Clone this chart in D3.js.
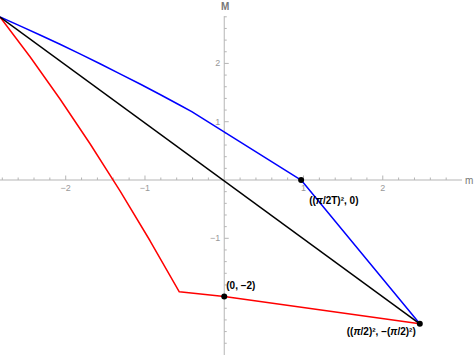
<!DOCTYPE html>
<html><head><meta charset="utf-8">
<script src="https://cdn.jsdelivr.net/npm/d3@7"></script>
<style>body{margin:0;background:#fff;} svg{display:block;}</style>
</head><body>
<script>
// Data
const blueM = [-2.829, -2.577, -2.324, -2.072, -1.820, -1.567, -1.315, -1.062, -0.810, -0.558, -0.410, 0.97, 2.467];
const blueV = [2.796, 2.643, 2.487, 2.328, 2.163, 1.995, 1.822, 1.647, 1.467, 1.282, 1.172, 0, -2.467];
const redM = [-2.829, -2.450, -2.072, -1.693, -1.315, -0.936, -0.567, 0, 2.467];
const redV = [2.796, 2.115, 1.390, 0.622, -0.187, -1.042, -1.918, -2, -2.467];
const blackM = [-2.829, 2.467];
const blackV = [2.796, -2.467];
const dotM = [0.97, 0, 2.467];
const dotV = [0, -2, -2.467];
const dotLabels = ["((\u03C0/2T)\u00B2, 0)", "(0, \u22122)", "((\u03C0/2)\u00B2, \u2212(\u03C0/2)\u00B2)"];
const xTicks = [-2, -1, 1, 2];
const yTicks = [-1, 1, 2];

const W = 476, H = 355;
const svg = d3.select("body").append("svg").attr("width", W).attr("height", H);
const x = d3.scaleLinear().domain([-2.829, 3.05]).range([0, 466]);
const y = d3.scaleLinear().domain([-3.0, 2.81]).range([354.9, 16.2]);
const axisCol = "#b5b5b5", labCol = "#999";

// x axis
const xg = svg.append("g").attr("transform", `translate(0,${y(0)})`);
xg.append("line").attr("x1", 0).attr("x2", x(3.0)).attr("stroke", axisCol).attr("stroke-width", 1);
const minorX = d3.range(-14, 16).map(i => i / 5).filter(v => Math.abs(v - Math.round(v)) > 1e-6);
xg.selectAll(".mx").data(minorX).join("line")
  .attr("x1", d => x(d)).attr("x2", d => x(d)).attr("y1", 0).attr("y2", -2.5)
  .attr("stroke", axisCol);
xg.selectAll(".Mx").data(xTicks).join("line")
  .attr("x1", d => x(d)).attr("x2", d => x(d)).attr("y1", 0).attr("y2", -4.5)
  .attr("stroke", axisCol);
xg.selectAll(".tx").data(xTicks).join("text")
  .attr("x", d => x(d)).attr("y", 11).attr("text-anchor", "middle")
  .attr("font-family", "Liberation Sans, Arial, sans-serif").attr("font-size", 9).attr("fill", labCol)
  .text(d => d < 0 ? "\u2212" + Math.abs(d) : d);

// y axis
const yg = svg.append("g").attr("transform", `translate(${x(0)},0)`);
yg.append("line").attr("y1", y(2.81)).attr("y2", H).attr("stroke", axisCol).attr("stroke-width", 1);
const minorY = d3.range(-15, 15).map(i => i / 5).filter(v => Math.abs(v - Math.round(v)) > 1e-6);
yg.selectAll(".my").data(minorY).join("line")
  .attr("y1", d => y(d)).attr("y2", d => y(d)).attr("x1", 0).attr("x2", 2.5)
  .attr("stroke", axisCol);
yg.selectAll(".My").data(yTicks).join("line")
  .attr("y1", d => y(d)).attr("y2", d => y(d)).attr("x1", 0).attr("x2", 4.5)
  .attr("stroke", axisCol);
yg.selectAll(".ty").data(yTicks).join("text")
  .attr("x", -4).attr("y", d => y(d) + 3).attr("text-anchor", "end")
  .attr("font-family", "Liberation Sans, Arial, sans-serif").attr("font-size", 9).attr("fill", labCol)
  .text(d => d < 0 ? "\u2212" + Math.abs(d) : d);

// axis labels
svg.append("text").attr("x", x(0) + 1).attr("y", 10).attr("text-anchor", "middle")
  .attr("font-family", "Liberation Sans, Arial, sans-serif").attr("font-size", 10).attr("font-weight", "bold")
  .attr("fill", "#777").text("M");
svg.append("text").attr("x", 465).attr("y", y(0) + 4).attr("text-anchor", "start")
  .attr("font-family", "Liberation Sans, Arial, sans-serif").attr("font-size", 10)
  .attr("fill", "#777").text("m");

const line = d3.line().x(d => x(d[0])).y(d => y(d[1]));
function draw(ms, vs, col) {
  svg.append("path").datum(ms.map((m, i) => [m, vs[i]])).attr("d", line)
    .attr("fill", "none").attr("stroke", col).attr("stroke-width", 1.5).attr("stroke-linejoin", "round");
}
draw(redM, redV, "#ff0000");
draw(blueM, blueV, "#0000ff");
draw(blackM, blackV, "#000000");

svg.selectAll(".dot").data(dotM).join("circle")
  .attr("cx", d => x(d)).attr("cy", (d, i) => y(dotV[i])).attr("r", 3).attr("fill", "#000");

const offs = [[8, 24], [2, -8], [-73, 11]];
svg.selectAll(".dl").data(dotLabels).join("text")
  .attr("x", (d, i) => x(dotM[i]) + offs[i][0]).attr("y", (d, i) => y(dotV[i]) + offs[i][1])
  .attr("font-family", "Liberation Sans, Arial, sans-serif").attr("font-size", 10).attr("font-weight", "bold")
  .attr("fill", "#000")
  .each(function(d) {
    const t = d3.select(this);
    d.split(/(\u03C0)/).forEach(part => {
      if (!part) return;
      const ts = t.append("tspan").text(part);
      if (part === "\u03C0") ts.attr("font-style", "italic");
    });
  });
</script>
</body></html>
